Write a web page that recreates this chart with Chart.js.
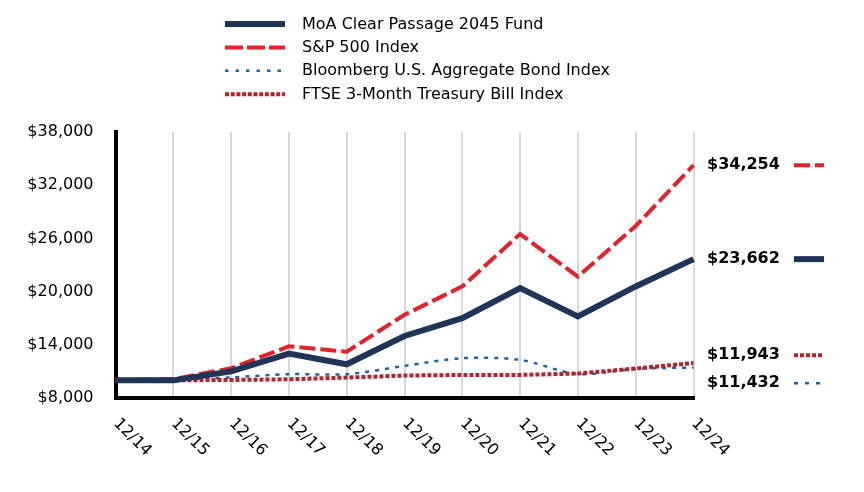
<!DOCTYPE html>
<html><head><meta charset="utf-8">
<script src="https://cdn.jsdelivr.net/npm/chart.js@4.4.1/dist/chart.umd.min.js"></script>
<style>html,body{margin:0;padding:0;background:#fff}canvas{display:block}</style>
</head><body><canvas id="c" width="864" height="492"></canvas>
<script>
const categories = ['12/14','12/15','12/16','12/17','12/18','12/19','12/20','12/21','12/22','12/23','12/24'];
const seriesNames = ['MoA Clear Passage 2045 Fund','S&P 500 Index','Bloomberg U.S. Aggregate Bond Index','FTSE 3-Month Treasury Bill Index'];
const fundValues  = [10000, 9990, 11000, 13000, 11800, 15000, 17000, 20400, 17200, 20580, 23662];
const sp500Values = [10000, 10138, 11351, 13829, 13223, 17386, 20585, 26494, 21696, 27400, 34254];
const bondValues  = [10000, 10055, 10321, 10687, 10688, 11620, 12492, 12300, 10700, 11292, 11432];
const tbillValues = [10000, 10003, 10030, 10114, 10303, 10535, 10596, 10601, 10760, 11326, 11943];
const yTicks = [8000, 14000, 20000, 26000, 32000, 38000];

const styles = [
  {color:'#1f3558', width:6,   dash:[],     tension:0,   order:0, legendWidth:6,   legendDash:[],      swatchDash:[]},
  {color:'#e2232b', width:4,   dash:[16,5], tension:0,   order:1, legendWidth:4,   legendDash:[18,4],  swatchDash:[16,5]},
  {color:'#2060a8', width:2.5, dash:[4,6],  tension:0.3, order:3, legendWidth:2.5, legendDash:[3.5,7], swatchDash:[4,7]},
  {color:'#b8202e', width:4,   dash:[4,2],  tension:0,   order:2, legendWidth:4,   legendDash:[4,1.7], swatchDash:[4,2]}
];
const allValues = [fundValues, sp500Values, bondValues, tbillValues];
const FONT = '"DejaVu Sans", Verdana, sans-serif';
const fmt = v => '$' + v.toLocaleString('en-US');

const datasets = allValues.map((vals, i) => ({
  label: seriesNames[i],
  data: vals,
  borderColor: styles[i].color,
  backgroundColor: styles[i].color,
  borderWidth: styles[i].width,
  borderDash: styles[i].dash,
  borderCapStyle: 'butt',
  borderJoinStyle: 'miter',
  tension: styles[i].tension,
  pointRadius: 0,
  fill: false,
  order: styles[i].order
}));

const extrasPlugin = {
  id: 'extras',
  afterDraw(chart) {
    const ctx = chart.ctx;
    const area = chart.chartArea;
    ctx.save();
    // Legend
    ctx.font = '16px ' + FONT;
    ctx.textBaseline = 'middle';
    ctx.textAlign = 'left';
    seriesNames.forEach((name, i) => {
      const y = 24 + i * 23.4;
      ctx.strokeStyle = styles[i].color;
      ctx.lineWidth = styles[i].legendWidth;
      ctx.setLineDash(styles[i].legendDash);
      ctx.lineCap = 'butt';
      ctx.beginPath(); ctx.moveTo(225, y); ctx.lineTo(285, y); ctx.stroke();
      ctx.setLineDash([]);
      ctx.fillStyle = '#000';
      ctx.fillText(name, 302, y + 0.5);
    });
    // X labels rotated
    const xs = chart.scales.x;
    ctx.font = '16px ' + FONT;
    categories.forEach((lab, i) => {
      const x = xs.getPixelForValue(i);
      ctx.save();
      ctx.translate(x + 0.5, area.bottom + 23);
      ctx.rotate(Math.PI / 4);
      ctx.textAlign = 'left';
      ctx.textBaseline = 'middle';
      ctx.fillStyle = '#000';
      ctx.fillText(lab, 0, 0);
      ctx.restore();
    });
    // End labels
    const items = chart.data.datasets.map((ds, i) => {
      const meta = chart.getDatasetMeta(i);
      const pt = meta.data[meta.data.length - 1];
      return {i, y: pt.y, text: fmt(ds.data[ds.data.length - 1])};
    }).sort((a, b) => a.y - b.y);
    for (let k = 1; k < items.length; k++) {
      if (items[k].y - items[k-1].y < 28) {
        const mid = (items[k].y + items[k-1].y) / 2 + 4;
        items[k-1].y = mid - 14;
        items[k].y = mid + 14;
      }
    }
    ctx.font = 'bold 16px ' + FONT;
    items.forEach(it => {
      ctx.fillStyle = '#000';
      ctx.textAlign = 'left';
      ctx.textBaseline = 'middle';
      ctx.fillText(it.text, 707, it.y);
      const s = styles[it.i];
      ctx.strokeStyle = s.color;
      ctx.lineWidth = s.legendWidth;
      ctx.setLineDash(s.swatchDash);
      ctx.beginPath(); ctx.moveTo(794, it.y); ctx.lineTo(824, it.y); ctx.stroke();
      ctx.setLineDash([]);
    });
    ctx.restore();
  }
};

new Chart(document.getElementById('c'), {
  type: 'line',
  data: { labels: categories, datasets },
  options: {
    responsive: false,
    animation: false,
    layout: { padding: { top: 132, right: 170.5, bottom: 94, left: 0 } },
    plugins: { legend: { display: false }, tooltip: { enabled: false } },
    scales: {
      x: {
        offset: false,
        ticks: { display: false },
        grid: { color: '#d9d9d9', lineWidth: 2, drawTicks: false },
        border: { color: '#000', width: 4 },
        afterFit(s) { s.height = 0; }
      },
      y: {
        min: 8000, max: 38000,
        afterBuildTicks(s) { s.ticks = yTicks.map(v => ({value: v})); },
        ticks: { callback: v => fmt(v), color: '#000', font: { family: FONT, size: 16 }, padding: 22 },
        grid: { display: false, drawTicks: false },
        border: { color: '#000', width: 4 },
        afterFit(s) { s.width = 115.5; }
      }
    }
  },
  plugins: [extrasPlugin]
});
</script></body></html>
